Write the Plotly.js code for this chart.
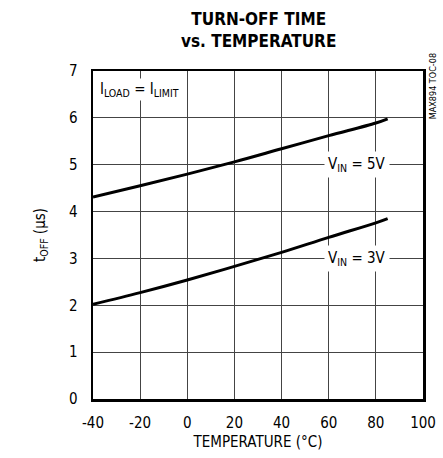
<!DOCTYPE html>
<html><head><meta charset="utf-8">
<script src="https://cdn.plot.ly/plotly-3.0.1.min.js"></script>
<style>body{margin:0;background:#fff}#c{width:443px;height:458px}</style>
</head><body><div id="c"></div>
<script>
var temps = [-40, -20, 0, 20, 40, 60, 80, 85];
var toff5V = [4.31, 4.55, 4.80, 5.06, 5.34, 5.62, 5.89, 5.98];
var toff3V = [2.02, 2.27, 2.54, 2.83, 3.13, 3.45, 3.76, 3.85];
var xTicks = [-40, -20, 0, 20, 40, 60, 80, 100];
var yTicks = [0, 1, 2, 3, 4, 5, 6, 7];

var F = '"DejaVu Sans Condensed", "Liberation Sans Narrow", "Roboto", sans-serif';
var traces = [
  {x: temps, y: toff5V, mode: 'lines', line: {color: '#000', width: 3, shape: 'spline'}, name: 'VIN = 5V'},
  {x: temps, y: toff3V, mode: 'lines', line: {color: '#000', width: 3, shape: 'spline'}, name: 'VIN = 3V'}
];
var ax = {showline: true, linewidth: 2.5, linecolor: '#000', mirror: true, showgrid: true,
  gridcolor: '#444', gridwidth: 1, zeroline: false, ticks: '', tickfont: {family: F, size: 15, color: '#000'}};
var layout = {
  width: 443, height: 458, showlegend: false,
  margin: {l: 93, r: 20, t: 71, b: 59},
  paper_bgcolor: '#fff', plot_bgcolor: '#fff',
  xaxis: Object.assign({}, ax, {range: [-40, 100], tickvals: xTicks, ticktext: xTicks.map(String), ticklabelstandoff: 8,
    title: {text: 'TEMPERATURE (°C)', font: {family: F, size: 15, color: '#000'}, standoff: 6}}),
  yaxis: Object.assign({}, ax, {range: [0, 7], tickvals: yTicks, ticktext: yTicks.map(String), ticklabelstandoff: 10,
    title: {text: 't<sub>OFF</sub> (µs)', font: {family: F, size: 15, color: '#000'}, standoff: 20}}),
  annotations: [
    {x: 0.5, y: 1, xref: 'paper', yref: 'paper', xanchor: 'center', yanchor: 'bottom', yshift: 18,
      text: '<b>TURN-OFF TIME<br>vs. TEMPERATURE</b>', showarrow: false,
      font: {family: F, size: 17, color: '#000'}},
    {x: -38, y: 6.6, xref: 'x', yref: 'y', xanchor: 'left', text: 'I<sub>LOAD</sub> = I<sub>LIMIT</sub>',
      showarrow: false, bgcolor: '#fff', font: {family: F, size: 15, color: '#000'}},
    {x: 72, y: 5.0, xref: 'x', yref: 'y', text: 'V<sub>IN</sub> = 5V', showarrow: false, bgcolor: '#fff',
      borderpad: 3, font: {family: F, size: 15, color: '#000'}},
    {x: 72, y: 3.0, xref: 'x', yref: 'y', text: 'V<sub>IN</sub> = 3V', showarrow: false, bgcolor: '#fff',
      borderpad: 3, font: {family: F, size: 15, color: '#000'}},
    {x: 1.03, y: 1.06, xref: 'paper', yref: 'paper', xanchor: 'center', yanchor: 'top', textangle: -90,
      text: 'MAX894 TOC-08', showarrow: false, font: {family: F, size: 9, color: '#000'}}
  ]
};
Plotly.newPlot('c', traces, layout, {staticPlot: true});
</script></body></html>
